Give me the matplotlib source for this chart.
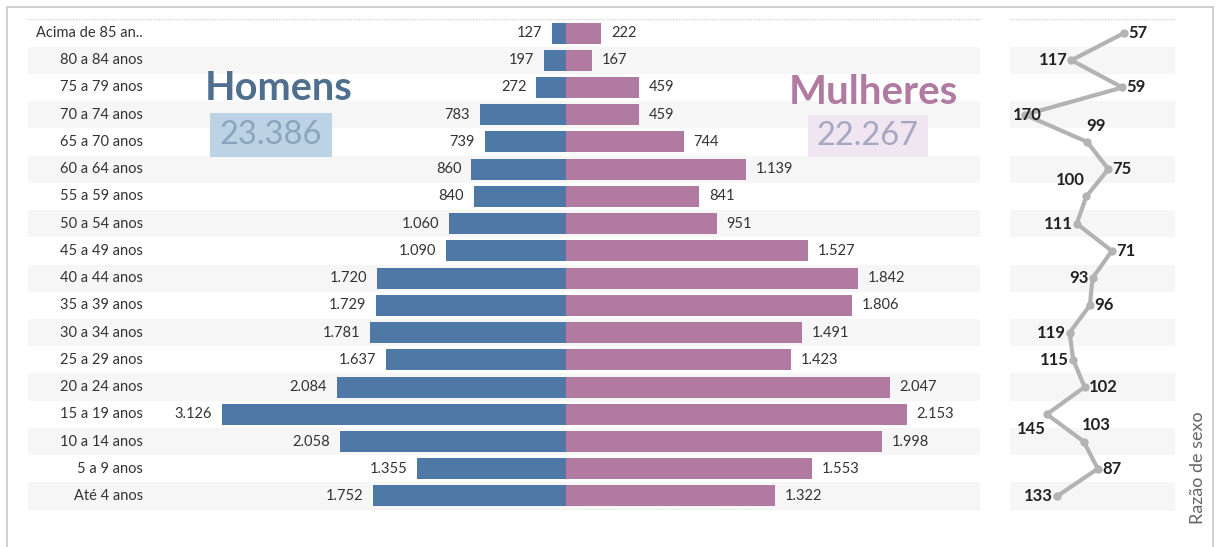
"""Pirâmide etária por sexo com razão de sexo ao lado."""

import matplotlib.pyplot as plt
from matplotlib.patches import Rectangle

plt.rcParams["font.family"] = ["Lato", "DejaVu Sans"]

faixas = [
    "Acima de 85 an..", "80 a 84 anos", "75 a 79 anos", "70 a 74 anos",
    "65 a 70 anos", "60 a 64 anos", "55 a 59 anos", "50 a 54 anos",
    "45 a 49 anos", "40 a 44 anos", "35 a 39 anos", "30 a 34 anos",
    "25 a 29 anos", "20 a 24 anos", "15 a 19 anos", "10 a 14 anos",
    "5 a 9 anos", "Até 4 anos",
]
homens = [127, 197, 272, 783, 739, 860, 840, 1060, 1090, 1720, 1729, 1781,
          1637, 2084, 3126, 2058, 1355, 1752]
mulheres = [222, 167, 459, 459, 744, 1139, 841, 951, 1527, 1842, 1806, 1491,
            1423, 2047, 2153, 1998, 1553, 1322]
razao = [57, 117, 59, 170, 99, 75, 100, 111, 71, 93, 96, 119, 115, 102, 145,
         103, 87, 133]
total_homens = "23.386"
total_mulheres = "22.267"

# where each ratio label sits relative to its point
razao_pos = ["r", "l", "r", "c", "t", "r", "tl", "l", "r", "l", "r", "l",
             "l", "r", "bl", "t", "r", "l"]

AZUL = "#4e79a7"
ROSA = "#b07aa1"
FAIXA = "#f6f6f6"
TXT = "#333333"

W, H = 1219, 547
fig = plt.figure(figsize=(W / 100, H / 100), dpi=100)


def box(x0, x1):
    top, bot = 19.4, 509.6
    return [x0 / W, 1 - bot / H, (x1 - x0) / W, (bot - top) / H]


def fig_rect(x0, y0, x1, y1, **kw):
    fig.add_artist(Rectangle((x0 / W, 1 - y1 / H), (x1 - x0) / W,
                             (y1 - y0) / H, transform=fig.transFigure, **kw))


def fmt(v):
    return f"{v:,}".replace(",", ".")


n = len(faixas)
rows = list(range(n))

# outer frame
fig_rect(7, 7, 1213, 600, fill=False, edgecolor="#c8c8c8", linewidth=1.2)

# background bands
for x0, x1 in [(28, 980), (1010, 1175)]:
    bg = fig.add_axes(box(x0, x1), zorder=0)
    bg.set_xlim(0, 1)
    bg.set_ylim(n - 0.5, -0.5)
    for i in rows:
        if i % 2 == 1:
            bg.axhspan(i - 0.5, i + 0.5, color=FAIXA, linewidth=0)
    for yy in (-0.5, n - 0.5):
        bg.axhline(yy, color="#d0d0d0", linewidth=1, linestyle=(0, (1, 1)))
    bg.axis("off")

# men
ax_m = fig.add_axes(box(28, 566), zorder=1)
ax_m.patch.set_visible(False)
ax_m.barh(rows, homens, height=0.77, color=AZUL)
ax_m.set_xlim(4890, 0)
ax_m.set_ylim(n - 0.5, -0.5)
for i, v in enumerate(homens):
    ax_m.annotate(fmt(v), (v, i), xytext=(-7, 0), textcoords="offset points",
                  ha="right", va="center", fontsize=10.5, color=TXT)
ax_m.axis("off")

# women
ax_f = fig.add_axes(box(566, 980), zorder=1)
ax_f.patch.set_visible(False)
ax_f.barh(rows, mulheres, height=0.77, color=ROSA)
ax_f.set_xlim(0, 2615)
ax_f.set_ylim(n - 0.5, -0.5)
for i, v in enumerate(mulheres):
    ax_f.annotate(fmt(v), (v, i), xytext=(7, 0), textcoords="offset points",
                  ha="left", va="center", fontsize=10.5, color=TXT)
ax_f.axis("off")

# age labels
for i, f in enumerate(faixas):
    ax_m.annotate(f, (0, i), xycoords=("figure pixels", "data"),
                  xytext=(143, 0), textcoords=("figure pixels", "offset points"),
                  ha="right", va="center", fontsize=10.5, color=TXT)

# totals
fig.text(279 / W, 1 - 89 / H, "Homens", ha="center", va="center",
         fontsize=28.5, fontweight="bold", color="#4f6f8f")
fig_rect(210, 113, 332, 157, facecolor="#bcd3e6", edgecolor="none")
fig.text(271 / W, 1 - 135 / H, total_homens, ha="center", va="center",
         fontsize=23.5, color="#8ba5bd")
fig.text(873 / W, 1 - 93 / H, "Mulheres", ha="center", va="center",
         fontsize=29, fontweight="bold", color="#b07aa1")
fig_rect(808, 115, 928, 157, facecolor="#efe6f1", edgecolor="none")
fig.text(868 / W, 1 - 136 / H, total_mulheres, ha="center", va="center",
         fontsize=23.5, color="#a7a7c2")

# sex ratio
ax_r = fig.add_axes(box(1010, 1175), zorder=1)
ax_r.patch.set_visible(False)
ax_r.plot(razao, rows, color="#b3b3b3", linewidth=3, marker="o",
          markersize=5, solid_capstyle="round")
ax_r.set_xlim(187, -1)
ax_r.set_ylim(n - 0.5, -0.5)
offsets = {
    "r": ((3, 0), "left", "center"),
    "l": ((-3, 0), "right", "center"),
    "c": ((2, 0), "center", "center"),
    "tl": ((-1, 6), "right", "bottom"),
    "t": ((-1, 6), "left", "bottom"),
    "bl": ((-1, -5), "right", "top"),
}
for i, (v, p) in enumerate(zip(razao, razao_pos)):
    off, ha, va = offsets[p]
    ax_r.annotate(str(v), (v, i), xytext=off, textcoords="offset points",
                  ha=ha, va=va, fontsize=12, fontweight="bold", color="#222222")
ax_r.axis("off")

fig.text(1198 / W, 1 - 468 / H, "Razão de sexo", rotation=90, ha="center",
         va="center", fontsize=13, color="#666666")

fig.savefig("out.png", dpi=100)
